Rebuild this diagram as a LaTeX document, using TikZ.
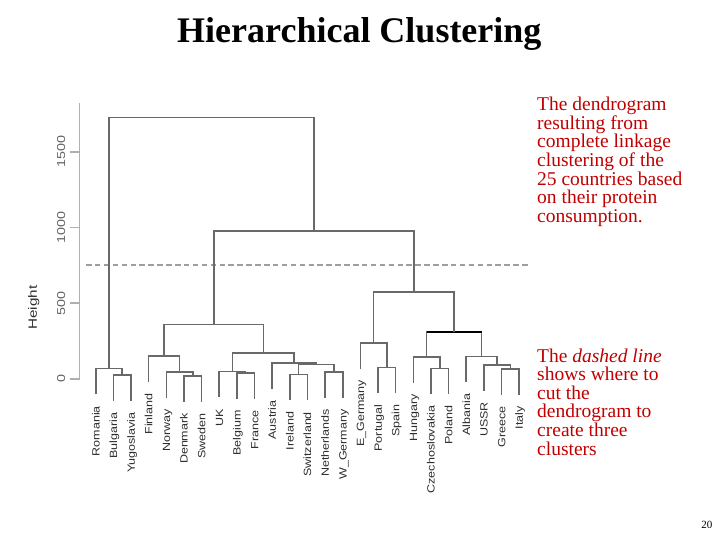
\documentclass[tikz,border=0pt]{standalone}
\usepackage{fontspec}
\setmainfont{Liberation Serif}
\newfontfamily\arialf{Liberation Sans}
\usetikzlibrary{calc}
\definecolor{dred}{RGB}{192,0,0}
\definecolor{dendc}{RGB}{105,105,105}
\definecolor{axisc}{RGB}{175,175,175}
\definecolor{dashc}{RGB}{158,158,158}
\definecolor{labc}{RGB}{45,45,45}
\definecolor{tickc}{RGB}{100,100,100}
\newcommand\leafnode[4]{%
  \coordinate (#1) at (#2,#3);
  \node[leaflab] (#1-l) at ($(#1)+(3.8,11.5)$) {#4};}
\begin{document}
\begin{tikzpicture}[x=1pt,y=-1pt,
  dend/.style={draw=dendc, line width=1.6pt},
  blackbar/.style={draw=black, line width=2.1pt},
  axisline/.style={draw=axisc, line width=1.8pt},
  tickline/.style={draw=axisc, line width=1.6pt},
  cutline/.style={draw=dashc, line width=1.8pt, dash pattern=on 5.5pt off 3.4pt},
  leaflab/.style={rotate=90, anchor=base east, inner sep=0pt,
    font=\arialf\fontsize{10.5}{12}\selectfont, text=labc, xscale=1.19},
  ticklab/.style={rotate=90, anchor=base, inner sep=0pt,
    font=\arialf\fontsize{11.5}{13}\selectfont, text=tickc, xscale=1.25},
  ylabel/.style={rotate=90, anchor=base, inner sep=0pt,
    font=\arialf\fontsize{12}{14}\selectfont, text=labc, xscale=1.27},
  redtext/.style={anchor=base west, inner sep=0pt, align=left, text=dred,
    font=\fontsize{19.5}{18.6}\selectfont}]
\useasboundingbox (0,0) rectangle (720,540);

% title and page number
\node[anchor=base west, inner sep=0pt, font=\bfseries\fontsize{36}{40}\selectfont] (title) at (177,42.5) {Hierarchical Clustering};
\node[anchor=base east, inner sep=0pt, font=\fontsize{11}{13}\selectfont] (pnum) at (712.5,528.3) {20};

% axis
\coordinate (axtop) at (79.5,103);
\coordinate (axbot) at (79.5,378.7);
\draw[axisline] (axbot) -- (axtop);
\foreach \v/\yy in {0/378.7, 500/303.1, 1000/227.4, 1500/151.8} {
  \coordinate (t\v) at (79.5,\yy);
  \coordinate (te\v) at (70,\yy);
  \draw[tickline] (t\v) -- (te\v);
  \node[ticklab] (tl\v) at (65,\yy) {\v};
}
\node[ylabel] (ylab) at (36.8,307.5) {Height};

% cut line
\coordinate (cutl) at (86,265);
\coordinate (cutr) at (530,265);
\draw[cutline] (cutl) -- (cutr);

% leaves
\leafnode{Romania}{95.7}{394.3}{Romania}
\leafnode{Bulgaria}{113.3}{400.8}{Bulgaria}
\leafnode{Yugoslavia}{131.0}{400.8}{Yugoslavia}
\leafnode{Finland}{148.6}{381.8}{Finland}
\leafnode{Norway}{166.3}{397.5}{Norway}
\leafnode{Denmark}{183.9}{401.5}{Denmark}
\leafnode{Sweden}{201.6}{401.5}{Sweden}
\leafnode{UK}{219.2}{397.3}{UK}
\leafnode{Belgium}{236.8}{398.8}{Belgium}
\leafnode{France}{254.5}{398.8}{France}
\leafnode{Austria}{272.1}{388.8}{Austria}
\leafnode{Ireland}{289.8}{400.3}{Ireland}
\leafnode{Switzerland}{307.4}{400.3}{Switzerland}
\leafnode{Netherlands}{325.0}{397.8}{Netherlands}
\leafnode{WGermany}{342.7}{397.8}{W\_Germany}
\leafnode{EGermany}{360.3}{368.5}{E\_Germany}
\leafnode{Portugal}{378.0}{393.1}{Portugal}
\leafnode{Spain}{395.6}{393.1}{Spain}
\leafnode{Hungary}{413.3}{382.5}{Hungary}
\leafnode{Czech}{430.9}{394.1}{Czechoslovakia}
\leafnode{Poland}{448.5}{394.1}{Poland}
\leafnode{Albania}{466.2}{382.1}{Albania}
\leafnode{USSR}{483.8}{390.5}{USSR}
\leafnode{Greece}{501.5}{394.8}{Greece}
\leafnode{Italy}{519.1}{394.8}{Italy}

% merge points
\coordinate (mBY) at (122.15,375);
\coordinate (mR) at (108.9,368.5);
\coordinate (mDS) at (192.75,375.7);
\coordinate (mN) at (179.5,371.7);
\coordinate (mF) at (164.05,356);
\coordinate (mBF) at (245.65,373);
\coordinate (mUK) at (232.4,371.5);
\coordinate (mIS) at (298.6,374.5);
\coordinate (mNW) at (333.85,372);
\coordinate (mISNW) at (316.2,364.5);
\coordinate (mA) at (294.15,363);
\coordinate (mW) at (263.3,352.7);
\coordinate (mL) at (213.7,324.3);
\coordinate (mPS) at (386.8,367.3);
\coordinate (mE) at (373.55,342.7);
\coordinate (mCP) at (439.7,368.3);
\coordinate (mH) at (426.5,356.7);
\coordinate (mGI) at (510.3,369);
\coordinate (mU) at (497.05,364.7);
\coordinate (mAl) at (481.6,356.3);
\coordinate (mHA) at (454.05,331.7);
\coordinate (mEH) at (413.8,291.7);
\coordinate (mC2) at (313.75,231);
\coordinate (mTop) at (211.3,117.7);

% dendrogram links
\draw[dend] (Bulgaria) |- (mBY) -| (Yugoslavia);
\draw[dend] (Romania) |- (mR) -| (mBY);
\draw[dend] (Denmark) |- (mDS) -| (Sweden);
\draw[dend] (Norway) |- (mN) -| (mDS);
\draw[dend] (Finland) |- (mF) -| (mN);
\draw[dend] (Belgium) |- (mBF) -| (France);
\draw[dend] (UK) |- (mUK) -| (mBF);
\draw[dend] (Ireland) |- (mIS) -| (Switzerland);
\draw[dend] (Netherlands) |- (mNW) -| (WGermany);
\draw[dend] (mIS) |- (mISNW) -| (mNW);
\draw[dend] (Austria) |- (mA) -| (mISNW);
\draw[dend] (mUK) |- (mW) -| (mA);
\draw[dend] (mF) |- (mL) -| (mW);
\draw[dend] (Portugal) |- (mPS) -| (Spain);
\draw[dend] (EGermany) |- (mE) -| (mPS);
\draw[dend] (Czech) |- (mCP) -| (Poland);
\draw[dend] (Hungary) |- (mH) -| (mCP);
\draw[dend] (Greece) |- (mGI) -| (Italy);
\draw[dend] (USSR) |- (mU) -| (mGI);
\draw[dend] (Albania) |- (mAl) -| (mU);
\draw[dend] (mH) |- (mHA) -| (mAl);
\draw[blackbar] (mH |- mHA) -- (mAl |- mHA);
\draw[dend] (mE) |- (mEH) -| (mHA);
\draw[dend] (mL) |- (mC2) -| (mEH);
\draw[dend] (mR) |- (mTop) -| (mC2);

% explanatory texts (anchored at the baseline of the last line)
\node[redtext] (desc) at (537,222.3) {The dendrogram\\resulting from\\complete linkage\\clustering of the\\25 countries based\\on their protein\\consumption.};
\node[redtext] (note) at (537,455) {The \textit{dashed line}\\shows where to\\cut the\\dendrogram to\\create three\\clusters};
\end{tikzpicture}
\end{document}
